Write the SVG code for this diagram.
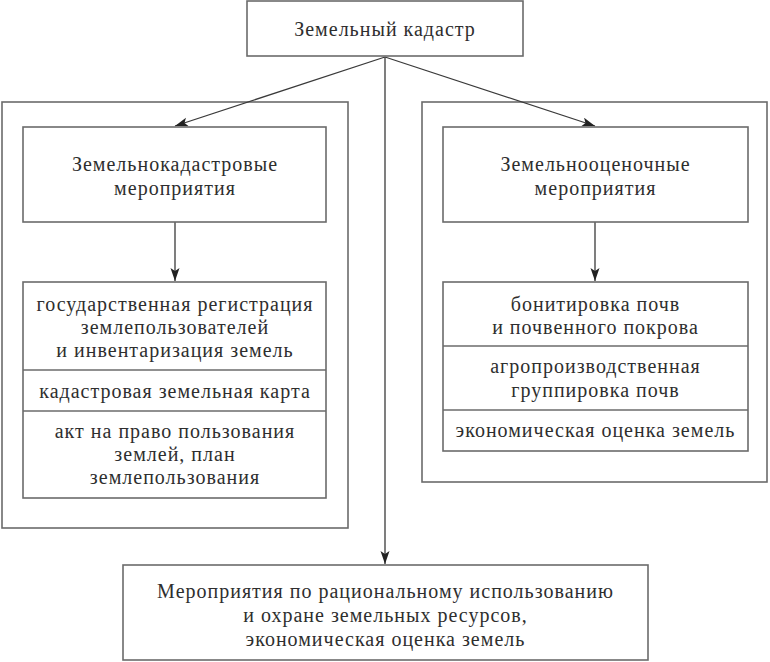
<svg xmlns="http://www.w3.org/2000/svg" width="770" height="662" viewBox="0 0 770 662">
<defs>
<style>
.box{fill:#fff;stroke:#6b6b6b;stroke-width:1.6}
.frame{fill:none;stroke:#6b6b6b;stroke-width:1.6}
.div{stroke:#6b6b6b;stroke-width:1.6}
.t{font-family:"Liberation Serif","Times New Roman",serif;font-size:20px;letter-spacing:1px;fill:#2e2e2e;text-anchor:middle}
.c{stroke:#3a3a3a;stroke-width:1.3;fill:none}
</style>
<marker id="ah" markerUnits="userSpaceOnUse" markerWidth="14" markerHeight="10" refX="13" refY="4.5" orient="auto">
<path d="M0,0 L13,4.5 L0,9 L3,4.5 z" fill="#222"/>
</marker>
</defs>
<rect width="770" height="662" fill="#fff"/>
<g id="frame-left"><rect class="frame" x="2" y="102" width="346" height="426"/></g>
<g id="frame-right"><rect class="frame" x="422" y="102" width="345" height="380"/></g>
<g id="connectors">
<line class="c" x1="385" y1="57" x2="175" y2="126" marker-end="url(#ah)"/>
<line class="c" x1="385" y1="57" x2="595" y2="126" marker-end="url(#ah)"/>
<line class="c" x1="385" y1="57" x2="385" y2="564" marker-end="url(#ah)"/>
<line class="c" x1="175" y1="222" x2="175" y2="281" marker-end="url(#ah)"/>
<line class="c" x1="595" y1="222" x2="595" y2="281" marker-end="url(#ah)"/>
</g>
<g id="n-top">
<rect class="box" x="247" y="1" width="276" height="55"/>
<text class="t" x="385" y="36">Земельный кадастр</text>
</g>
<g id="n-left">
<rect class="box" x="23" y="127" width="303" height="95"/>
<text class="t" x="175" y="171">Земельнокадастровые</text>
<text class="t" x="175" y="195">мероприятия</text>
</g>
<g id="n-right">
<rect class="box" x="443" y="127" width="305" height="95"/>
<text class="t" x="595.5" y="171">Земельнооценочные</text>
<text class="t" x="595.5" y="195">мероприятия</text>
</g>
<g id="n-left-list">
<rect class="box" x="23" y="282" width="303" height="216"/>
<line class="div" x1="23" y1="370" x2="326" y2="370"/>
<line class="div" x1="23" y1="411" x2="326" y2="411"/>
<text class="t" x="175" y="311">государственная регистрация</text>
<text class="t" x="175" y="334">землепользователей</text>
<text class="t" x="175" y="357">и инвентаризация земель</text>
<text class="t" x="175" y="398">кадастровая земельная карта</text>
<text class="t" x="175" y="438">акт на право пользования</text>
<text class="t" x="175" y="461">землей, план</text>
<text class="t" x="175" y="484">землепользования</text>
</g>
<g id="n-right-list">
<rect class="box" x="443" y="282" width="305" height="169"/>
<line class="div" x1="443" y1="346" x2="748" y2="346"/>
<line class="div" x1="443" y1="410" x2="748" y2="410"/>
<text class="t" x="595.5" y="311">бонитировка почв</text>
<text class="t" x="595.5" y="334">и почвенного покрова</text>
<text class="t" x="595.5" y="373">агропроизводственная</text>
<text class="t" x="595.5" y="397">группировка почв</text>
<text class="t" x="595.5" y="437">экономическая оценка земель</text>
</g>
<g id="n-bottom">
<rect class="box" x="123" y="565" width="525" height="95"/>
<text class="t" x="385.5" y="598">Мероприятия по рациональному использованию</text>
<text class="t" x="385.5" y="622">и охране земельных ресурсов,</text>
<text class="t" x="385.5" y="646">экономическая оценка земель</text>
</g>
</svg>
